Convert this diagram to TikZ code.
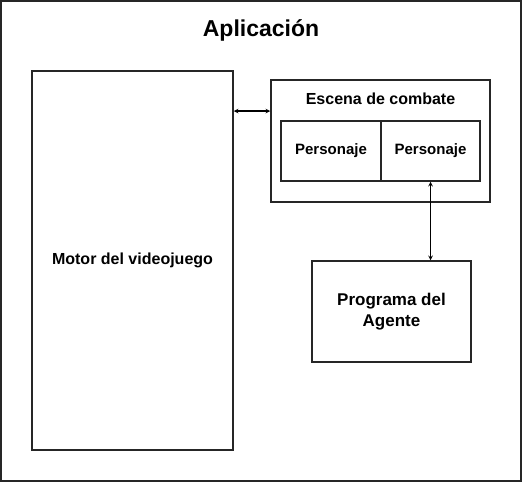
\documentclass[tikz,border=0pt]{standalone}
\usepackage{fontspec}
\setmainfont{Liberation Sans}
\usetikzlibrary{arrows}
\begin{document}
\begin{tikzpicture}[x=1pt,y=-1pt,
box/.style={draw=black!85, line width=1.5pt, inner sep=0pt, font=\bfseries\fontsize{15}{18}\selectfont},
link/.style={stealth-stealth, line width=1.1pt}]
\useasboundingbox (0,0) rectangle (522,482);
\node[box, minimum width=520, minimum height=480] (app) at (261,241) {};
\node[font=\bfseries\fontsize{23}{27}\selectfont] (title) at (261,30) {Aplicación};
\node[box, minimum width=201, minimum height=379, font=\bfseries\fontsize{16}{19}\selectfont] (motor) at (132.5,260.5) {Motor del videojuego};
\node[box, minimum width=219, minimum height=122] (escena) at (380.5,141) {};
\node[font=\bfseries\fontsize{16}{19}\selectfont] (etitle) at (380.5,99) {Escena de combate};
\node[box, minimum width=100, minimum height=60] (p1) at (331,151) {Personaje};
\node[box, minimum width=99, minimum height=60] (p2) at (430.5,151) {Personaje};
\node[box, minimum width=159, minimum height=101, align=center, font=\bfseries\fontsize{17}{21}\selectfont] (agente) at (391.5,311.5) {Programa del\\Agente};
\draw[link] ([yshift=30pt]escena.west) -- ([yshift=30pt]escena.west -| motor.east);
\draw[link] (p2.south) -- (p2.south |- agente.north);
\end{tikzpicture}
\end{document}
